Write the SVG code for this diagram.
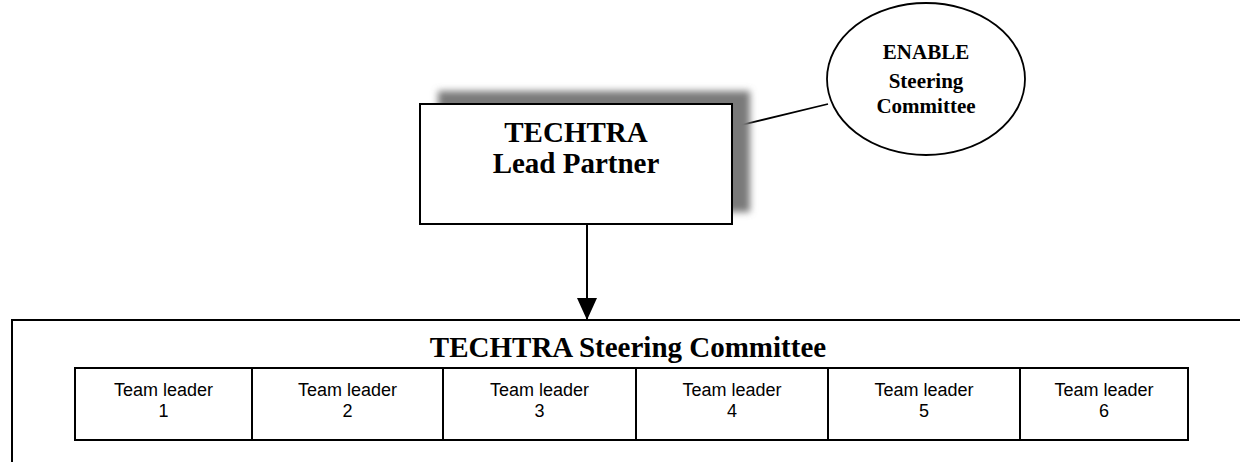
<svg xmlns="http://www.w3.org/2000/svg" width="1240" height="462" viewBox="0 0 1240 462">
<style>
.ln{stroke:#000;stroke-width:2;fill:#fff}
.tb{font-family:"Liberation Serif","Times New Roman",serif;font-weight:bold;fill:#000;text-anchor:middle}
.ta{font-family:"Liberation Sans",Arial,sans-serif;font-size:18px;fill:#000;text-anchor:middle}
</style>
<defs>
<filter id="blur" x="-20%" y="-30%" width="140%" height="160%"><feGaussianBlur stdDeviation="3.5"/></filter>
<marker id="arr" markerWidth="22" markerHeight="20" refX="22" refY="10" orient="auto" markerUnits="userSpaceOnUse" viewBox="0 0 22 20">
<path d="M0,0 L22,10 L0,20 Z" fill="#000"/>
</marker>
</defs>
<rect width="1240" height="462" fill="#fff"/>
<g id="connectors">
<line x1="733" y1="127" x2="828" y2="104" stroke="#000" stroke-width="1.8"/>
<line x1="587" y1="224" x2="587" y2="320" stroke="#000" stroke-width="2" marker-end="url(#arr)"/>
</g>
<g id="lead-partner">
<rect x="438" y="91" width="312" height="121" fill="#7a7a7a" filter="url(#blur)"/>
<rect x="420" y="104" width="312" height="120" class="ln"/>
<text class="tb" font-size="29" x="576" y="142">TECHTRA</text>
<text class="tb" font-size="29" x="576" y="173">Lead Partner</text>
</g>
<g id="enable-steering">
<ellipse cx="926" cy="79" rx="99" ry="76" fill="#fff" stroke="#000" stroke-width="1.8"/>
<text class="tb" font-size="21" x="926" y="59">ENABLE</text>
<text class="tb" font-size="21" x="926" y="88">Steering</text>
<text class="tb" font-size="21" x="926" y="113">Committee</text>
</g>
<g id="techtra-steering">
<rect x="12" y="320" width="1240" height="200" class="ln"/>
<text class="tb" font-size="29" x="628" y="357">TECHTRA Steering Committee</text>
</g>
<g id="team-leaders">
<rect x="75" y="368" width="1113" height="72" class="ln"/>
<line x1="252" y1="368" x2="252" y2="440" stroke="#000" stroke-width="2"/>
<line x1="443" y1="368" x2="443" y2="440" stroke="#000" stroke-width="2"/>
<line x1="636" y1="368" x2="636" y2="440" stroke="#000" stroke-width="2"/>
<line x1="828" y1="368" x2="828" y2="440" stroke="#000" stroke-width="2"/>
<line x1="1020" y1="368" x2="1020" y2="440" stroke="#000" stroke-width="2"/>
<g id="tl1"><text class="ta" x="163.5" y="396">Team leader</text><text class="ta" x="163.5" y="417">1</text></g>
<g id="tl2"><text class="ta" x="347.5" y="396">Team leader</text><text class="ta" x="347.5" y="417">2</text></g>
<g id="tl3"><text class="ta" x="539.5" y="396">Team leader</text><text class="ta" x="539.5" y="417">3</text></g>
<g id="tl4"><text class="ta" x="732" y="396">Team leader</text><text class="ta" x="732" y="417">4</text></g>
<g id="tl5"><text class="ta" x="924" y="396">Team leader</text><text class="ta" x="924" y="417">5</text></g>
<g id="tl6"><text class="ta" x="1104" y="396">Team leader</text><text class="ta" x="1104" y="417">6</text></g>
</g>
</svg>
